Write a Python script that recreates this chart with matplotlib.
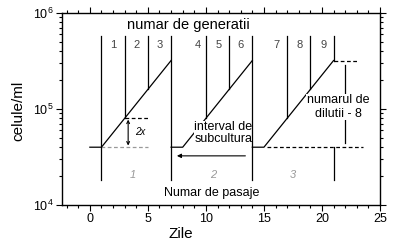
import matplotlib
matplotlib.use("Agg")
import matplotlib.pyplot as plt
from matplotlib.ticker import MultipleLocator, LogLocator, LogFormatterMathtext

plt.rcParams['font.family'] = ['Liberation Sans', 'DejaVu Sans']
plt.rcParams['mathtext.fontset'] = 'custom'
plt.rcParams['mathtext.rm'] = 'Liberation Sans'
plt.rcParams['mathtext.it'] = 'Liberation Sans:italic'

# ---- data ----
lag_start = [0, 7, 14]          # day the passage is seeded
growth_start = [1, 8, 15]       # end of lag phase
growth_end = [7, 14, 21]        # day of subculture
seed_density = 40000
final_density = 320000
doubling_time = 2

gen_line_x = [1, 3, 5, 7, 10, 12, 14, 17, 19, 21]
boundary_x = [1, 7, 14]
gen_labels = ['1', '2', '3', '4', '5', '6', '7', '8', '9']
gen_label_x = [2, 4, 6, 9.3, 11.1, 13.0, 16.1, 18.1, 20.1]
passage_labels = ['1', '2', '3']
passage_label_x = [3.7, 10.6, 17.5]

x_ticks = [0, 5, 10, 15, 20, 25]

# ---- figure ----
fig = plt.figure(figsize=(3.96, 2.47), dpi=100)
ax = fig.add_axes([62/396, 1-205/247, (380-62)/396, (205-13)/247])
ax.set_yscale('log')
ax.set_xlim(-2.4, 25)
ax.set_ylim(1e4, 1e6)

lw = 0.9
top_y = 575000
bot_y = 18200

# growth curves
for ls, gs, ge in zip(lag_start, growth_start, growth_end):
    ax.plot([ls, gs, ge], [seed_density, seed_density, final_density],
            color='black', lw=lw, zorder=2)

def density_at(x):
    for gs, ge in zip(growth_start, growth_end):
        if gs <= x <= ge:
            return seed_density * 2 ** ((x - gs) / doubling_time)
    return seed_density

# generation lines
for x in gen_line_x:
    if x in boundary_x:
        ax.plot([x, x], [top_y, bot_y], color='black', lw=lw, zorder=4)
    else:
        ax.plot([x, x], [top_y, density_at(x)], color='black', lw=lw, zorder=4)
# lower segment below last passage end
ax.plot([21, 21], [seed_density, bot_y], color='black', lw=lw, zorder=4)

for lab, x in zip(gen_labels, gen_label_x):
    ax.text(x, 464000, lab, ha='center', va='center', fontsize=8, color='#444444')

for lab, x in zip(passage_labels, passage_label_x):
    ax.text(x, 20500, lab, ha='center', va='center', fontsize=8,
            color='#999999', style='italic')

# dashed guides
ax.plot([1, 5], [seed_density, seed_density], color='#999999', lw=lw,
        dashes=(3, 2), zorder=2)
ax.plot([3, 5], [2*seed_density, 2*seed_density], color='black', lw=lw,
        dashes=(3, 2), zorder=2)
ax.plot([15.3, 23.5], [seed_density, seed_density], color='black', lw=lw,
        dashes=(3, 2), zorder=2)
ax.plot([21, 23], [final_density, final_density], color='black', lw=lw,
        dashes=(3, 2), zorder=2)

# 2x arrow
ax.annotate('', xy=(3.3, 2*seed_density*0.97), xytext=(3.3, seed_density*1.04),
            arrowprops=dict(arrowstyle='<->', lw=0.8, color='black',
                            mutation_scale=5, shrinkA=0, shrinkB=0))
ax.text(4.3, 57500, '2x', ha='center', va='center', fontsize=7, style='italic')

# subculture interval arrow
ax.annotate('', xy=(7.5, 32500), xytext=(13.4, 32500),
            arrowprops=dict(arrowstyle='-|>', lw=0.8, color='black',
                            mutation_scale=6, shrinkA=0, shrinkB=0))
ax.text(11.5, 56000, 'interval de\nsubcultura', ha='center', va='center',
        fontsize=9, linespacing=1.0, zorder=3,
        bbox=dict(facecolor='white', edgecolor='none', pad=0.3))

# dilution line
ax.plot([22, 22], [290000, 44000], color='black', lw=lw, zorder=2)
ax.text(21.4, 105000, 'numarul de\ndilutii - 8', ha='center', va='center',
        fontsize=9, linespacing=1.15, zorder=3,
        bbox=dict(facecolor='white', edgecolor='none', pad=0.5))

ax.text(8.5, 750000, 'numar de generatii', ha='center', va='center', fontsize=10.5)
ax.text(10.5, 13300, 'Numar de pasaje', ha='center', va='center', fontsize=9)

# axes styling
ax.set_xticks(x_ticks)
ax.xaxis.set_minor_locator(MultipleLocator(1))
ax.yaxis.set_major_locator(LogLocator(base=10))
ax.yaxis.set_major_formatter(LogFormatterMathtext())
ax.tick_params(which='both', direction='out', top=True, right=True,
               labeltop=False, labelright=False, width=0.8, labelsize=9, pad=2)
ax.tick_params(which='major', length=4)
ax.tick_params(which='minor', length=2.5)
for s in ax.spines.values():
    s.set_linewidth(1.0)

fig.text(181/396, 1-234/247, 'Zile', ha='center', va='center', fontsize=11)
fig.text(18/396, 1-111/247, 'celule/ml', ha='center', va='center',
         fontsize=11, rotation=90)

fig.savefig('out.png', dpi=100)
